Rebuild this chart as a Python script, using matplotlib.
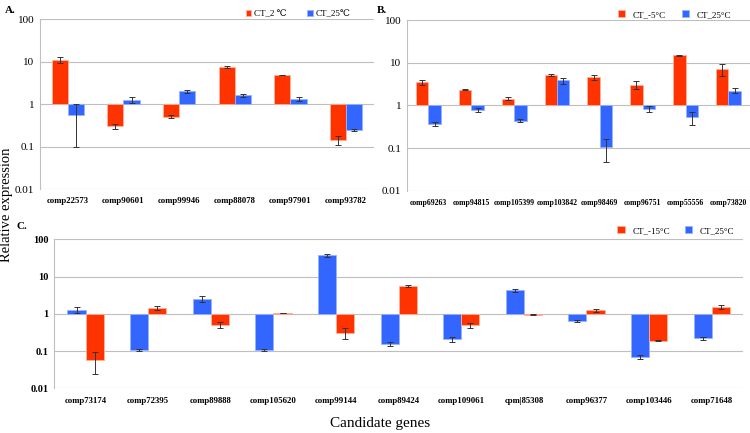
import numpy as np
import matplotlib
matplotlib.use("Agg")
import matplotlib.pyplot as plt

plt.rcParams['font.family'] = ['Liberation Serif', 'DejaVu Serif']

# Panel A
genes_a = ['comp22573', 'comp90601', 'comp99946', 'comp88078', 'comp97901', 'comp93782']
cold_a = [11.0, 0.30, 0.51, 7.4, 4.9, 0.145]
cold_a_err = [1.8, 0.04, 0.045, 0.4, 0.1, 0.036]
warm_a = [0.55, 1.27, 2.0, 1.63, 1.31, 0.25]
warm_a_err = [0.45, 0.18, 0.17, 0.16, 0.14, 0.015]

# Panel B
genes_b = ['comp69263', 'comp94815', 'comp105399', 'comp103842', 'comp98469',
           'comp96751', 'comp55556', 'comp73820']
cold_b = [3.46, 2.33, 1.43, 5.14, 4.53, 3.05, 14.8, 6.98]
cold_b_err = [0.4, 0.08, 0.1, 0.15, 0.55, 0.6, 0.2, 2.2]
warm_b = [0.365, 0.79, 0.44, 3.85, 0.104, 0.82, 0.52, 2.2]
warm_b_err = [0.035, 0.085, 0.04, 0.6, 0.056, 0.12, 0.17, 0.3]

# Panel C (blue drawn first)
genes_c = ['comp73174', 'comp72395', 'comp89888', 'comp105620', 'comp99144', 'comp89424',
           'comp109061', 'cpm|85308', 'comp96377', 'comp103446', 'comp71648']
warm_c = [1.25, 0.108, 2.53, 0.106, 37.6, 0.153, 0.205, 4.32, 0.64, 0.069, 0.222]
warm_c_err = [0.23, 0.005, 0.5, 0.005, 4.0, 0.02, 0.035, 0.37, 0.045, 0.008, 0.02]
cold_c = [0.058, 1.45, 0.50, 1.04, 0.315, 5.53, 0.49, 0.94, 1.23, 0.19, 1.51]
cold_c_err = [0.034, 0.15, 0.09, 0.01, 0.11, 0.35, 0.08, 0.03, 0.1, 0.005, 0.17]

RED = '#FF3300'
BLUE = '#3366FF'
GRID = '#BFBFBF'


def draw_panel(ax, genes, first, first_err, second, second_err, c1, c2,
               xfs=6.5, yfs=8, bold_y=False):
    x = np.arange(len(genes))
    w = 0.29
    first = np.array(first)
    second = np.array(second)
    edge = {RED: '#FFB299', BLUE: '#99B3FF'}
    b1 = ax.bar(x - w / 2, first - 1, bottom=1, width=w, color=c1,
                edgecolor=edge[c1], linewidth=0.6, zorder=3)
    b2 = ax.bar(x + w / 2, second - 1, bottom=1, width=w, color=c2,
                edgecolor=edge[c2], linewidth=0.6, zorder=3)
    ax.errorbar(x - w / 2, first, yerr=first_err, fmt='none', ecolor='#333333',
                elinewidth=0.7, capsize=2, capthick=0.7, zorder=4)
    ax.errorbar(x + w / 2, second, yerr=second_err, fmt='none', ecolor='#333333',
                elinewidth=0.7, capsize=2, capthick=0.7, zorder=4)
    ax.set_yscale('log')
    ax.set_ylim(0.01, 100)
    ax.set_xlim(-0.5, len(genes) - 0.5)
    ax.set_yticks([0.01, 0.1, 1, 10, 100])
    ax.set_yticklabels(['0.01', '0.1', '1', '10', '100'],
                       fontsize=yfs, fontweight='bold' if bold_y else 'normal')
    ax.minorticks_off()
    ax.set_xticks(x)
    ax.set_xticklabels(genes, fontsize=xfs, fontweight='bold')
    ax.tick_params(length=0, pad=4)
    ax.tick_params(axis='x', pad=6)
    ax.yaxis.grid(True, color=GRID, linewidth=0.8, zorder=0)
    for s in ['top', 'right', 'bottom']:
        ax.spines[s].set_visible(False)
    ax.spines['left'].set_color(GRID)
    ax.spines['left'].set_linewidth(0.8)
    return b1, b2


fig = plt.figure(figsize=(7.5, 4.33), dpi=100)

ax_a = fig.add_axes([0.0533, 0.5635, 0.4453, 0.3915])
h = draw_panel(ax_a, genes_a, cold_a, cold_a_err, warm_a, warm_a_err, RED, BLUE,
               xfs=6.3, yfs=8)
ax_a.legend(h, ['CT_2 \u2103', 'CT_25\u2103'], ncol=2, frameon=False, fontsize=6.5,
            loc='lower right', bbox_to_anchor=(0.94, 0.985), handlelength=0.6, handleheight=0.6,
            handletextpad=0.3, columnspacing=2.3, borderaxespad=0)

ax_b = fig.add_axes([0.5427, 0.5596, 0.457, 0.3942])
h = draw_panel(ax_b, genes_b, cold_b, cold_b_err, warm_b, warm_b_err, RED, BLUE,
               xfs=5.6, yfs=8)
ax_b.legend(h, ['CT_-5\u00b0C', 'CT_25\u00b0C'], ncol=2, frameon=False, fontsize=6.5,
            loc='lower right', bbox_to_anchor=(0.955, 0.985), handlelength=0.8, handleheight=0.8,
            handletextpad=0.8, columnspacing=1.8, borderaxespad=0)

ax_c = fig.add_axes([0.0724, 0.1032, 0.9183, 0.3441])
h = draw_panel(ax_c, genes_c, warm_c, warm_c_err, cold_c, cold_c_err, BLUE, RED,
               xfs=6.3, yfs=7.5, bold_y=True)
ax_c.legend([h[1], h[0]], ['CT_-15\u00b0C', 'CT_25\u00b0C'], ncol=2, frameon=False, fontsize=6.5,
            loc='lower right', bbox_to_anchor=(0.993, 1.005), handlelength=0.8, handleheight=0.8,
            handletextpad=0.9, columnspacing=1.6, borderaxespad=0)

fig.text(0.007, 0.985, 'A.', fontsize=8, fontweight='bold', va='top')
fig.text(0.503, 0.985, 'B.', fontsize=8, fontweight='bold', va='top')
fig.text(0.022, 1 - 222 / 433, 'C.', fontsize=8, fontweight='bold', va='top')

fig.text(0.009, 0.527, 'Relative expression', rotation=90, fontsize=10.5, va='center', ha='center')
fig.text(0.507, 0.021, 'Candidate genes', fontsize=11, ha='center', va='center')

fig.savefig('out.png', dpi=100)
